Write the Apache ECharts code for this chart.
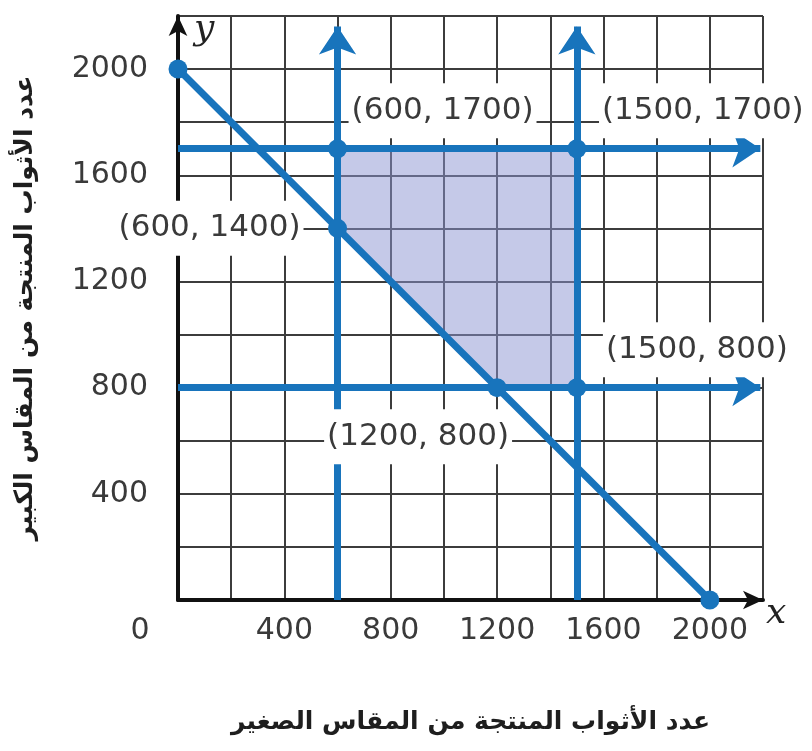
<!DOCTYPE html>
<html>
<head>
<meta charset="utf-8">
<script src="https://cdn.jsdelivr.net/npm/echarts@6/dist/echarts.min.js"></script>
<style>
  html, body { margin: 0; padding: 0; background: #fff; }
  #chart { width: 812px; height: 751px; }
</style>
</head>
<body>
<div id="chart"></div>
<script>
// data
var xTicks = [0, 400, 800, 1200, 1600, 2000];
var yTicks = [400, 800, 1200, 1600, 2000];
var budgetLine = [[0, 2000], [2000, 0]];
var verticalLimits = [600, 1500];
var horizontalLimits = [1700, 800];
var verticalArrowEnd = 2160;
var horizontalArrowEnd = 2190;
var feasibleRegion = [[600, 1700], [1500, 1700], [1500, 800], [1200, 800], [600, 1400]];
var cornerLabels = ['(600, 1700)', '(1500, 1700)', '(1500, 800)', '(1200, 800)', '(600, 1400)'];
var xTitle = 'عدد الأثواب المنتجة من المقاس الصغير';
var yTitle = 'عدد الأثواب المنتجة من المقاس الكبير';

var BLUE = '#1874bc';
var TXT = '#3a3a3a';
// where each corner label sits relative to its point (px)
var labelShift = [[105, -38], [126, -38], [120, -38], [-79, 49], [-128, 0]];

var chart = echarts.init(document.getElementById('chart'));

var limitLines = [];
verticalLimits.forEach(function (x) {
  limitLines.push({ coords: [[x, 0], [x, verticalArrowEnd]] });
});
horizontalLimits.forEach(function (y) {
  limitLines.push({ coords: [[0, y], [horizontalArrowEnd, y]] });
});

var dots = feasibleRegion.map(function (p, i) {
  return {
    value: p,
    label: {
      show: true,
      formatter: cornerLabels[i],
      position: 'inside',
      offset: labelShift[i]
    }
  };
});
budgetLine.forEach(function (p) { dots.push({ value: p }); });

var titleStyle = { fontFamily: 'DejaVu Sans', fontWeight: 'bold', fontSize: 25, color: '#1e1e1e' };

var option = {
  animation: false,
  grid: { left: 178, right: 49, top: 16, bottom: 151 },
  xAxis: {
    type: 'value', min: 0, max: 2200, interval: 200,
    name: xTitle, nameLocation: 'middle', nameGap: 110,
    nameTextStyle: titleStyle,
    axisLine: { lineStyle: { color: '#111', width: 4 }, symbol: ['none', 'arrow'], symbolSize: [14, 20] },
    axisTick: { show: false },
    splitLine: { lineStyle: { color: '#3c3c3c', width: 2 } },
    axisLabel: {
      margin: 16, fontFamily: 'DejaVu Sans', fontSize: 30, color: TXT,
      showMinLabel: true, showMaxLabel: true,
      formatter: function (v) {
        if (v === 0) return '{o|0}';
        return xTicks.indexOf(v) >= 0 ? String(v) : '';
      },
      rich: { o: { fontFamily: 'DejaVu Sans', fontSize: 30, color: TXT, padding: [0, 76, 0, 0] } }
    }
  },
  yAxis: {
    type: 'value', min: 0, max: 2200, interval: 200,
    name: yTitle, nameLocation: 'middle', nameGap: 140, nameRotate: 90,
    nameTextStyle: titleStyle,
    axisLine: { show: true, lineStyle: { color: '#111', width: 4 }, symbol: ['none', 'arrow'], symbolSize: [14, 20] },
    axisTick: { show: false },
    splitLine: { lineStyle: { color: '#3c3c3c', width: 2 } },
    axisLabel: {
      margin: 30, fontFamily: 'DejaVu Sans', fontSize: 30, color: TXT,
      formatter: function (v) { return yTicks.indexOf(v) >= 0 ? String(v) : ''; }
    }
  },
  graphic: [
    { type: 'text', left: 194, top: 12, style: { text: 'y', font: 'italic 36px "DejaVu Serif"', fill: '#222' } },
    { type: 'text', left: 766, top: 596, style: { text: 'x', font: 'italic 36px "DejaVu Serif"', fill: '#222' } }
  ],
  series: [
    {
      type: 'custom', z: 1,
      data: [[0, 0]],
      renderItem: function (params, api) {
        var pts = feasibleRegion.map(function (p) { return api.coord(p); });
        return { type: 'polygon', shape: { points: pts }, style: { fill: 'rgba(140,148,210,0.5)' } };
      }
    },
    {
      type: 'lines', coordinateSystem: 'cartesian2d', z: 2,
      symbol: ['none', 'arrow'], symbolSize: [10, 28],
      lineStyle: { color: BLUE, width: 7, opacity: 1 },
      data: limitLines
    },
    {
      type: 'line', z: 3, symbol: 'none',
      lineStyle: { color: BLUE, width: 7 },
      data: budgetLine
    },
    {
      type: 'scatter', z: 4, symbolSize: 19,
      itemStyle: { color: BLUE, opacity: 1 },
      label: {
        fontFamily: 'DejaVu Sans', fontSize: 31, color: TXT,
        backgroundColor: '#fff', padding: [12, 3]
      },
      data: dots
    }
  ]
};
chart.setOption(option);
</script>
</body>
</html>
